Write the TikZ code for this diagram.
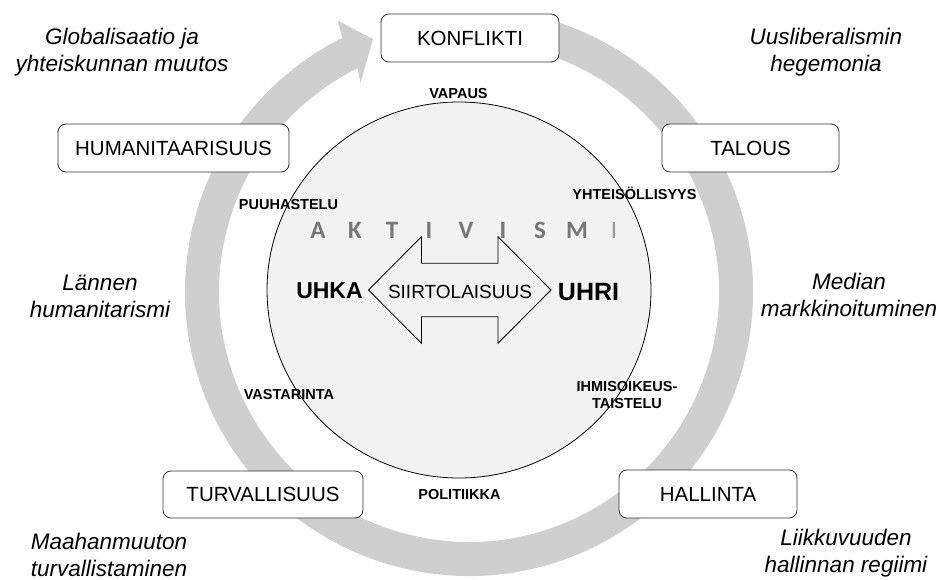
\documentclass[tikz,border=0pt]{standalone}
\usepackage{fontspec}
\setmainfont{Liberation Sans}
\newfontfamily\akfont{Carlito}
\usetikzlibrary{calc}
\definecolor{ringc}{RGB}{208,207,208}
\definecolor{circc}{RGB}{242,242,242}
\definecolor{akc}{RGB}{118,118,118}
\definecolor{akl}{RGB}{150,150,150}
\definecolor{boxc}{RGB}{50,50,50}
\begin{document}
\begin{tikzpicture}[x=1pt,y=1pt,
  box/.style={draw=boxc, line width=0.8pt, rounded corners=8pt, fill=white, inner sep=0pt,
    font=\fontsize{20.5}{24}\selectfont},
  ital/.style={inner sep=0pt, align=center, font=\fontsize{22.5}{27}\selectfont\itshape},
  lbl/.style={inner sep=0pt, anchor=base, font=\fontsize{14.5}{17}\selectfont\bfseries},
  akt/.style={inner sep=0pt, anchor=base, text=akc, font=\akfont\fontsize{25}{29}\selectfont\bfseries},
]
\useasboundingbox (0,0) rectangle (949,579);
\coordinate (C) at (469,287);
% grey circular arrow
\fill[ringc] ($(C)+(77:284pt)$) arc[start angle=77, end angle=-243.5, radius=284pt]
  -- (337.5,558.5) -- (373,540) -- (360.5,496)
  -- ($(C)+(116.5:250pt)$) arc[start angle=116.5, end angle=437, radius=250pt] -- cycle;
% inner circle
\draw[fill=circc, line width=0.8pt] (459,289) ellipse [x radius=192pt, y radius=188pt];
% double arrow
\draw[fill=circc, line width=0.8pt, line join=miter]
  (368.5,289) -- (421.5,342.3) -- (421.5,315.7) -- (498,315.7) -- (498,342.3) -- (551,289)
  -- (498,235.7) -- (498,262.3) -- (421.5,262.3) -- (421.5,235.7) -- cycle;
% AKTIVISMI
\foreach \L [count=\i from 0] in {A,K,T,I,V,I,S,M}
  \node[akt] (ak\i) at (318+37*\i,340.7) {\L};
\node[akt, text=akl, font=\akfont\fontsize{25}{29}\selectfont] (ak8) at (614,340.7) {I};
\node[inner sep=0pt, anchor=base, font=\fontsize{23}{27}\selectfont\bfseries] (uhka) at (329.5,281) {UHKA};
\node[inner sep=0pt, anchor=base, font=\fontsize{25}{29}\selectfont\bfseries] (uhri) at (588.5,279) {UHRI};
\node[inner sep=0pt, anchor=base, font=\fontsize{19}{23}\selectfont] (siirt) at (460,281) {SIIRTOLAISUUS};
% boxes
\node[box, minimum width=178pt, minimum height=48pt] (konf) at (470,541) {KONFLIKTI};
\node[box, minimum width=231pt, minimum height=48pt] (hum) at (173.5,431) {HUMANITAARISUUS};
\node[box, minimum width=177pt, minimum height=48pt] (tal) at (750.5,431) {TALOUS};
\node[box, minimum width=200pt, minimum height=47pt] (turv) at (263,84.5) {TURVALLISUUS};
\node[box, minimum width=178pt, minimum height=48pt] (hall) at (708,85) {HALLINTA};
% small labels
\node[lbl] (vap) at (458.5,480) {VAPAUS};
\node[lbl] (puuh) at (288.5,369.7) {PUUHASTELU};
\node[lbl] (yht) at (634.5,379) {YHTEISÖLLISYYS};
\node[lbl] (vast) at (289,180) {VASTARINTA};
\node[lbl] (pol) at (459.5,80) {POLITIIKKA};
\node[lbl, anchor=center, align=center] (ihm) at (627,183.7) {IHMISOIKEUS-\\TAISTELU};
% italic context texts
\node[ital] (glob) at (122,526.8) {Globalisaatio ja\\yhteiskunnan muutos};
\node[ital] (uusl) at (826,526.8) {Uusliberalismin\\hegemonia};
\node[ital] (lann) at (100,282.6) {Lännen\\humanitarismi};
\node[ital] (med) at (849,284.2) {Median\\markkinoituminen};
\node[ital] (maah) at (109,24.5) {Maahanmuuton\\turvallistaminen};
\node[ital] (liik) at (846,26) {Liikkuvuuden\\hallinnan regiimi};
\end{tikzpicture}
\end{document}
